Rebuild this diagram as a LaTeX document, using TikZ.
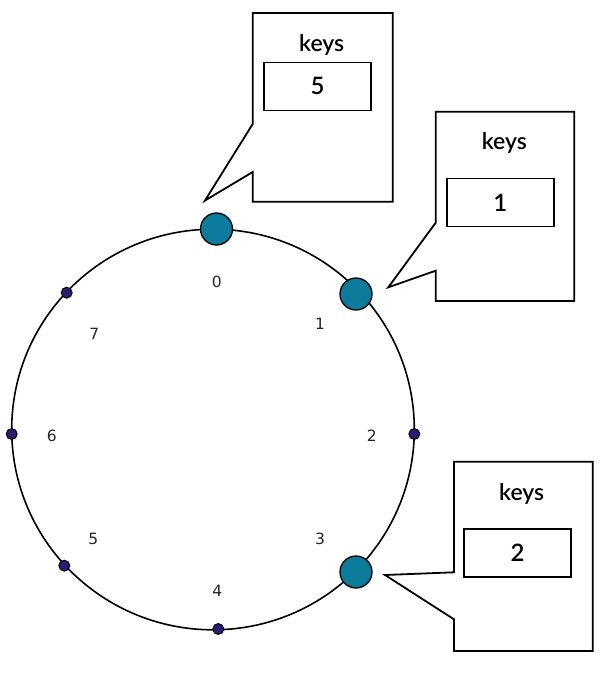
\documentclass[tikz,border=0pt]{standalone}
\usepackage{fontspec}
\setmainfont{Lato}[UprightFont=* Semibold]
\newfontfamily\labfont{DejaVu Sans}
\definecolor{tealnode}{HTML}{0B7C9C}
\definecolor{purpdot}{HTML}{2E1A70}
\begin{document}
\begin{tikzpicture}[x=1pt,y=-1pt,
  ring/.style={draw=black,line width=1.6pt},
  bignode/.style={circle,draw=black,line width=1.3pt,fill=tealnode,minimum size=32pt,inner sep=0pt},
  smalldot/.style={circle,draw=black,line width=0.9pt,fill=purpdot,minimum size=11pt,inner sep=0pt},
  lab/.style={font=\labfont\fontsize{15.5}{18}\selectfont,text=black!85},
  callout/.style={draw=black,line width=1.8pt,line join=miter,fill=white},
  keybox/.style={draw=black,line width=1.6pt,minimum width=107pt,minimum height=48pt,inner sep=0pt,font=\fontsize{24}{28}\selectfont},
  keyslab/.style={font=\fontsize{23}{26}\selectfont}]
\useasboundingbox (0,0) rectangle (608,694);
\fill[white] (0,0) rectangle (608,694);
% ring
\draw[ring] (213,429.5) ellipse [x radius=201.3, y radius=200.3];
% nodes
\node[bignode] (n0) at (216.5,229) {};
\node[bignode] (n1) at (356,294) {};
\node[bignode] (n3) at (356,572) {};
\node[smalldot] (n2) at (414.3,434) {};
\node[smalldot] (n4) at (218.3,629) {};
\node[smalldot] (n5) at (64.3,565.7) {};
\node[smalldot] (n6) at (11.7,434) {};
\node[smalldot] (n7) at (66.7,292.7) {};
% labels
\node[lab] (l0) at (216.7,282) {0};
\node[lab] (l1) at (320,323.5) {1};
\node[lab] (l2) at (371.7,435.5) {2};
\node[lab] (l3) at (320,538.5) {3};
\node[lab] (l4) at (217.3,590.7) {4};
\node[lab] (l5) at (93.3,538.5) {5};
\node[lab] (l6) at (51.7,435.7) {6};
\node[lab] (l7) at (94.3,334) {7};
% callout for node 0
\coordinate (t0) at (205,200.5);
\draw[callout] (252.7,13) -- (392.7,13) -- (392.7,201.7) -- (252.7,201.7) -- (252.7,172) -- (t0) -- (252.7,124) -- cycle;
\node[keyslab] (k0) at (321.7,45) {keys};
\node[keybox] (b0) at (317.5,86.3) {5};
% callout for node 1
\coordinate (t1) at (388.3,287.3);
\draw[callout] (435.7,111.7) -- (574.3,111.7) -- (574.3,301) -- (435.7,301) -- (435.7,270.7) -- (t1) -- (435.7,222.7) -- cycle;
\node[keyslab] (k1) at (504.3,143.3) {keys};
\node[keybox] (b1) at (500.3,202.5) {1};
% callout for node 3
\coordinate (t3) at (385,575);
\draw[callout] (454,461.7) -- (592.7,461.7) -- (592.7,651) -- (454,651) -- (454,619.3) -- (t3) -- (454,572.3) -- cycle;
\node[keyslab] (k3) at (521.7,494) {keys};
\node[keybox] (b3) at (517.5,552.8) {2};
\end{tikzpicture}
\end{document}
